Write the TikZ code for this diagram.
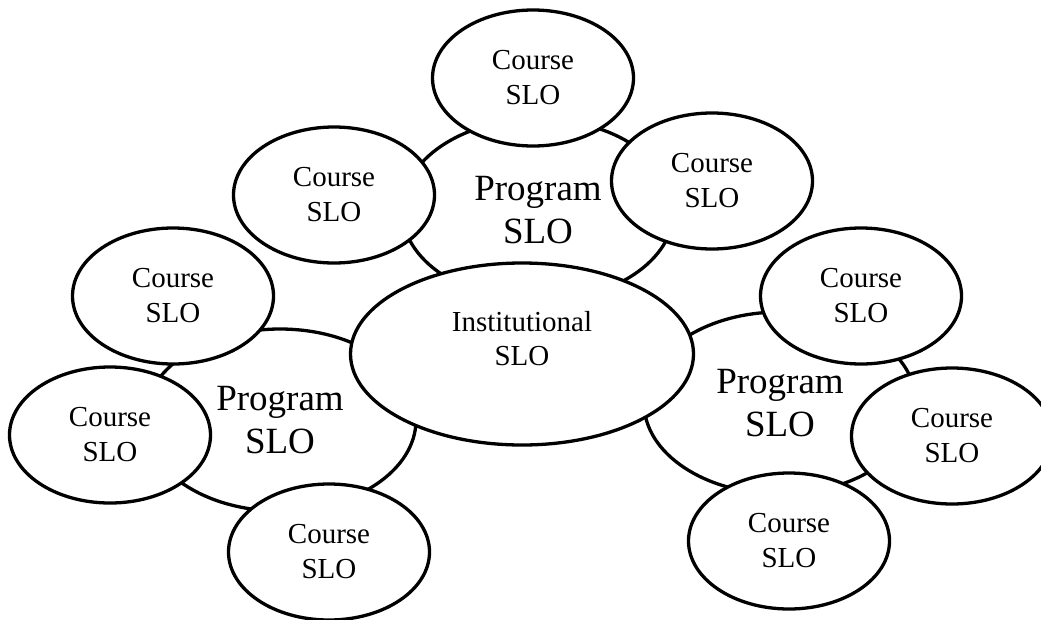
\documentclass[tikz,border=0pt]{standalone}
\usepackage{fontspec}
\setmainfont{Liberation Serif}
\usepackage{tikz}
\usetikzlibrary{shapes.geometric}

\begin{document}
\begin{tikzpicture}[x=1pt,y=-1pt,
  slo/.style={ellipse,draw,line width=3.3pt,fill=white,inner sep=0pt,align=center},
  course/.style={slo,minimum width=201pt,minimum height=136pt,font=\fontsize{29}{35}\selectfont},
  program/.style={slo,minimum width=272pt,minimum height=182pt,font=\fontsize{37}{43}\selectfont}]

  \useasboundingbox (0,0) rectangle (1041,619);
  \clip (0,0) rectangle (1041,619);

  % Program level (behind)
  \node[program] (progtop) at (538,210) {Program\\SLO};
  \node[program] (progleft) at (280,420) {Program\\SLO};
  \node[program] (progright) at (780,403) {Program\\SLO};

  % Course level
  \node[course] (ctop) at (533,78) {Course\\SLO};
  \node[course] (ctopleft) at (334,195) {Course\\SLO};
  \node[course] (ctopright) at (712,181) {Course\\SLO};
  \node[course] (cleftup) at (173,296) {Course\\SLO};
  \node[course] (cleft) at (110,435) {Course\\SLO};
  \node[course] (cleftdown) at (329,552) {Course\\SLO};
  \node[course] (crightup) at (861,296) {Course\\SLO};
  \node[course] (cright) at (952,436) {Course\\SLO};
  \node[course] (crightdown) at (789,541) {Course\\SLO};

  % Institutional level (on top)
  \node[slo,minimum width=343pt,minimum height=182pt] (inst) at (522,354) {};
  \node[align=center,font=\fontsize{29}{34}\selectfont] (insttext) at (522,339) {Institutional\\SLO};

\end{tikzpicture}
\end{document}
